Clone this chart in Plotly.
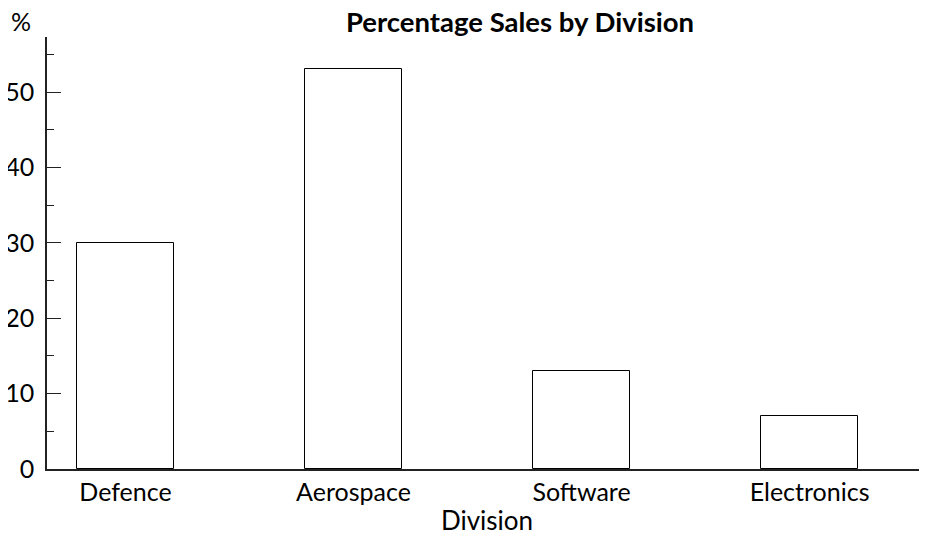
import plotly.graph_objects as go

categories = ["Defence", "Aerospace", "Software", "Electronics"]
values = [30, 53, 13, 7]
y_ticks = [0, 10, 20, 30, 40, 50]

FONT = "Lato, 'Noto Sans', sans-serif"

fig = go.Figure()
fig.add_trace(go.Bar(
    x=list(range(len(categories))),
    y=values,
    width=0.425,
    marker=dict(color="white", line=dict(color="black", width=1)),
    showlegend=False,
))

fig.update_layout(
    width=919, height=528,
    margin=dict(l=39, r=0, t=29, b=67, autoexpand=False),
    plot_bgcolor="white", paper_bgcolor="white",
    font=dict(family=FONT, size=25, color="black"),
    title=dict(text="<b>Percentage Sales by Division</b>", x=0.5375, xref="paper",
               xanchor="center", y=0.973, yanchor="middle",
               font=dict(family=FONT, size=27.5, color="black")),
    bargap=0,
)
fig.update_xaxes(
    range=[-0.344, 3.515],
    tickmode="array", tickvals=list(range(len(categories))), ticktext=categories,
    showline=True, linecolor="#222", linewidth=1.5,
    ticks="", showgrid=False, zeroline=False, automargin=False,
    title=dict(text="Division", standoff=8, font=dict(size=26)),
    tickfont=dict(size=25),
)
fig.update_yaxes(
    range=[0, 57.3],
    tickmode="array", tickvals=y_ticks,
    showline=True, linecolor="#222", linewidth=1.5,
    ticks="inside", ticklen=14, tickwidth=1, tickcolor="#222",
    minor=dict(tickvals=[5, 15, 25, 35, 45, 55], ticks="inside", ticklen=7,
               tickwidth=1, tickcolor="#222"),
    showgrid=False, zeroline=False, automargin=False,
    ticklabelstandoff=6,
    tickfont=dict(size=25),
)
fig.add_annotation(text="%", xref="paper", yref="paper", x=-0.0295, y=1.037,
                   xanchor="center", yanchor="middle", showarrow=False,
                   font=dict(size=25))
fig.write_html("out.html")
